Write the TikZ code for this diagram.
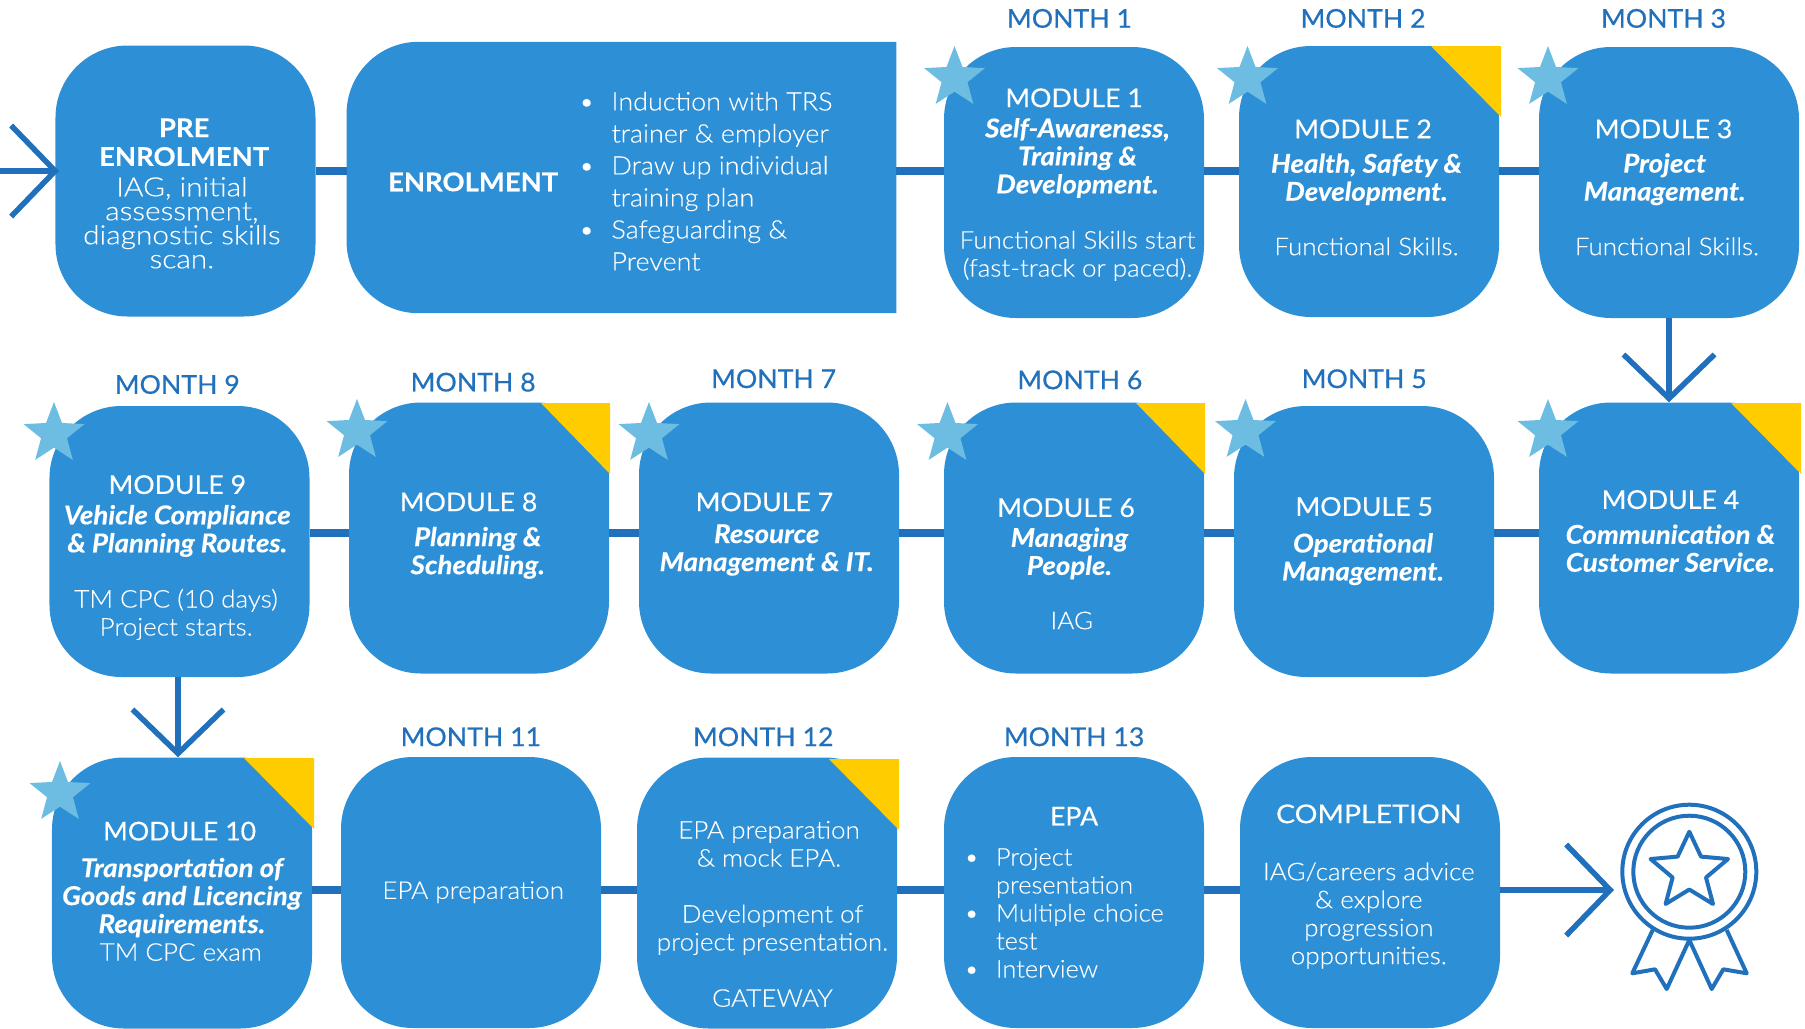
\documentclass[tikz,border=0pt]{standalone}
\usepackage{fontspec}
\setmainfont{Lato}
\newfontfamily\lightface{Lato Light}
\usetikzlibrary{arrows.meta,shapes.geometric}
\definecolor{boxblue}{HTML}{2D90D6}
\definecolor{linkblue}{HTML}{2070BC}
\definecolor{starblue}{HTML}{6DBDE3}
\definecolor{cornergold}{HTML}{FFCC00}
\tikzset{
 x=1bp,y=-1bp,
 modbox/.style={rectangle,fill=boxblue,rounded corners=72bp,minimum width=260bp,minimum height=271bp,inner sep=0pt},
 ghostbox/.style={rectangle,minimum width=549.5bp,minimum height=271bp,inner sep=0pt},
 link/.style={draw=linkblue,line width=7.5bp},
 linkarrow/.style={draw=linkblue,line width=6bp,-{Straight Barb[length=44bp,width=91bp,line width=5.5bp]}},
 starmark/.style={star,star points=5,star point ratio=2.35,fill=starblue,minimum size=64bp,inner sep=0pt},
 corner/.style={fill=cornergold},
 month/.style={text=linkblue,font=\fontsize{26}{28}\selectfont\addfontfeature{FakeStretch=1.03,FakeBold=0.5}},
 title/.style={text=white,font=\fontsize{26}{28}\selectfont\addfontfeature{FakeStretch=1.03,FakeBold=0.3}},
 head/.style={text=white,font=\fontsize{26}{28}\selectfont\bfseries\addfontfeature{FakeStretch=1.06,FakeBold=0.3}},
 strongline/.style={text=white,align=center,yshift=-2bp,font=\fontsize{26}{28bp}\selectfont\bfseries\itshape\addfontfeature{FakeStretch=1.07,FakeBold=0.4}},
 bodyline/.style={text=white,align=center,font=\lightface\fontsize{24.5}{28bp}\selectfont\addfontfeature{FakeStretch=1.065,FakeBold=0.15}},
 tightline/.style={text=white,align=center,font=\lightface\fontsize{26.5}{24bp}\selectfont\addfontfeature{FakeStretch=1.13,FakeBold=0.15}},
 listline/.style={text=white,align=left,inner sep=0pt,font=\lightface\fontsize{25.5}{32bp}\selectfont\addfontfeature{FakeStretch=1.06,FakeBold=0.15}},
 epaline/.style={text=white,align=left,inner sep=0pt,font=\lightface\fontsize{24.5}{28bp}\selectfont\addfontfeature{FakeStretch=1.04,FakeBold=0.15}},
 medal/.style={draw=linkblue,line width=4bp,line join=round},
}
\newcommand{\dotitem}[1]{\llap{\textbullet\hspace{17bp}}#1}
\begin{document}
\begin{tikzpicture}
\useasboundingbox (0,0) rectangle (1805,1028);
% boxes
\node[modbox] (pre) at (185.5,181) {};
\node[ghostbox] (enrol) at (621.5,177.5) {};
\node[modbox] (m1) at (1074,182.5) {};
\node[modbox] (m2) at (1369,181.5) {};
\node[modbox] (m3) at (1669,182.5) {};
\node[modbox] (m4) at (1669,538) {};
\node[modbox] (m5) at (1364,541.5) {};
\node[modbox] (m6) at (1074,538) {};
\node[modbox] (m7) at (769,538) {};
\node[modbox] (m8) at (479,538) {};
\node[modbox] (m9) at (179.5,541.5) {};
\node[modbox] (m10) at (182,893) {};
\node[modbox] (m11) at (471,892.5) {};
\node[modbox] (m12) at (767,893) {};
\node[modbox] (epa) at (1074,892.5) {};
\node[modbox] (comp) at (1370,892.5) {};
\fill[boxblue] (enrol.north east) [rounded corners=72bp] -- (enrol.north west) -- (enrol.south west) [sharp corners] -- (enrol.south east) -- cycle;
% connectors
\coordinate (start) at (0,171);
\coordinate (starttip) at (59,171);
\coordinate (finish) at (1614,890);
\draw[linkarrow] (start) -- (starttip);
\foreach \a/\b in {pre/enrol,enrol/m1,m1/m2,m2/m3}{\draw[link] (\a.east |- 0,171) -- (\b.west |- 0,171);}
\foreach \a/\b in {m4/m5,m5/m6,m6/m7,m7/m8,m8/m9}{\draw[link] (\a.west |- 0,533) -- (\b.east |- 0,533);}
\foreach \a/\b in {m10/m11,m11/m12,m12/epa,epa/comp}{\draw[link] (\a.east |- 0,890) -- (\b.west |- 0,890);}
\draw[linkarrow] (m3.south) -- (m4.north);
\draw[linkarrow] (m9.south -| 178,0) -- (m10.north -| 178,0);
\draw[linkarrow] (comp.east |- finish) -- (finish);
% gold corners
\foreach \xa/\xb/\ya/\yb in {1431/1501/46/117,541/610/403/474,1136/1205/403/474,1731/1801/403/474,244/314/758/829,829/899/759/830}{
 \fill[corner] (\xa,\ya) -- (\xb,\ya) -- (\xb,\yb) -- cycle;}
% stars
\node[starmark] (s1) at (954.5,78) {};
\node[starmark] (s2) at (1247.5,78) {};
\node[starmark] (s3) at (1548,78) {};
\node[starmark] (s4) at (1548,431) {};
\node[starmark] (s5) at (1245.5,431) {};
\node[starmark] (s6) at (947.5,434) {};
\node[starmark] (s7) at (649,434) {};
\node[starmark] (s8) at (357,431) {};
\node[starmark] (s9) at (54,434) {};
\node[starmark] (s10) at (60,793) {};
% medal
\draw[medal] (1689.3,871.7) circle[radius=67];
\draw[medal] (1689.3,871.7) circle[radius=56];
\draw[medal] (1689.3,831.7) -- (1701,856.6) -- (1728,859) -- (1706,877.5) -- (1713,904) -- (1689.3,889.5) -- (1665.6,904) -- (1672.6,877.5) -- (1650.6,859) -- (1677.6,856.6) -- cycle;
\draw[medal] (1652.7,930) -- (1632.3,973.3) -- (1655,969.3) -- (1666.7,989) -- (1689.3,940) -- (1711.7,989) -- (1723.3,969.3) -- (1746.7,973.3) -- (1726.7,930);
% text, in the coordinates of the shrunk view
\begin{scope}[x=1.1512bp,y=-1.1512bp]
\node[month] (t1) at (929,16) {MONTH 1};
\node[month] (t2) at (1184,16) {MONTH 2};
\node[month] (t3) at (1445,16) {MONTH 3};
\node[month] (t9) at (154,334) {MONTH 9};
\node[month] (t8) at (411,332) {MONTH 8};
\node[month] (t7) at (672,329) {MONTH 7};
\node[month] (t6) at (938,330) {MONTH 6};
\node[month] (t5) at (1185,329) {MONTH 5};
\node[month] (t11) at (409,640) {MONTH 11};
\node[month] (t12) at (663,640) {MONTH 12};
\node[month] (t13) at (933,640) {MONTH 13};

\node[head] (h1) at (160,111) {PRE};
\node[head] (h2) at (160,136) {ENROLMENT};
\node[tightline] (b1) at (158,193.5) {IAG, initial\\assessment,\\diagnostic skills\\scan.};
\node[head] (h3) at (411,158) {ENROLMENT};
\node[listline,anchor=west] (b2) at (531,157.5) {\dotitem{Induction with TRS}\\trainer \& employer\\\dotitem{Draw up individual}\\training plan\\\dotitem{Safeguarding \&}\\Prevent};

\node[title] (a1) at (933,85) {MODULE 1};
\node[strongline] (c1) at (936,135.5) {Self-Awareness,\\Training \&\\Development.};
\node[bodyline,yshift=-2bp] (d1) at (936,220.5) {Functional Skills start\\(fast-track or paced).};

\node[title] (a2) at (1184,112) {MODULE 2};
\node[strongline] (c2) at (1187,154) {Health, Safety \&\\Development.};
\node[bodyline] (d2) at (1187,214) {Functional Skills.};

\node[title] (a3) at (1445,112) {MODULE 3};
\node[strongline] (c3) at (1446,154) {Project\\Management.};
\node[bodyline] (d3) at (1448,214) {Functional Skills.};

\node[title] (a9) at (154,421) {MODULE 9};
\node[strongline] (c9) at (154,459.5) {Vehicle Compliance\\\& Planning Routes.};
\node[bodyline,yshift=-2bp] (d9) at (153,532) {TM CPC (10 days)\\Project starts.};

\node[title] (a8) at (407,436) {MODULE 8};
\node[strongline] (c8) at (415,478.5) {Planning \&\\Scheduling.};

\node[title] (a7) at (664,436) {MODULE 7};
\node[strongline] (c7) at (666,476) {Resource\\Management \& IT.};

\node[title] (a6) at (926,441) {MODULE 6};
\node[strongline] (c6) at (929,479) {Managing\\People.};
\node[bodyline] (d6) at (931,539) {IAG};

\node[title] (a5) at (1185,440) {MODULE 5};
\node[strongline] (c5) at (1184,484) {Operational\\Management.};

\node[title] (a4) at (1451,434) {MODULE 4};
\node[strongline] (c4) at (1451,474.5) {Communication \&\\Customer Service.};

\node[title] (a10) at (156,722) {MODULE 10};
\node[strongline] (c10) at (158,778) {Transportation of\\Goods and Licencing\\Requirements.};
\node[bodyline] (d10) at (157,827) {TM CPC exam};

\node[bodyline] (d11) at (411,775) {EPA preparation};

\node[bodyline] (d12) at (668,733) {EPA preparation\\\& mock EPA.};
\node[bodyline,yshift=-2bp] (e12) at (671,806) {Development of\\project presentation.};
\node[bodyline] (f12) at (671,867) {GATEWAY};

\node[title] (a13) at (933,709) {EPA};
\node[epaline,anchor=west] (b13) at (865,793) {\dotitem{Project}\\presentation\\\dotitem{Multiple choice}\\test\\\dotitem{Interview}};

\node[title,font=\fontsize{26}{28}\selectfont\addfontfeature{FakeStretch=1.1,FakeBold=0.3}] (a14) at (1189,707) {COMPLETION};
\node[bodyline,yshift=-2bp] (b14) at (1189,793.5) {IAG/careers advice\\\& explore\\progression\\opportunities.};
\end{scope}
\end{tikzpicture}
\end{document}
